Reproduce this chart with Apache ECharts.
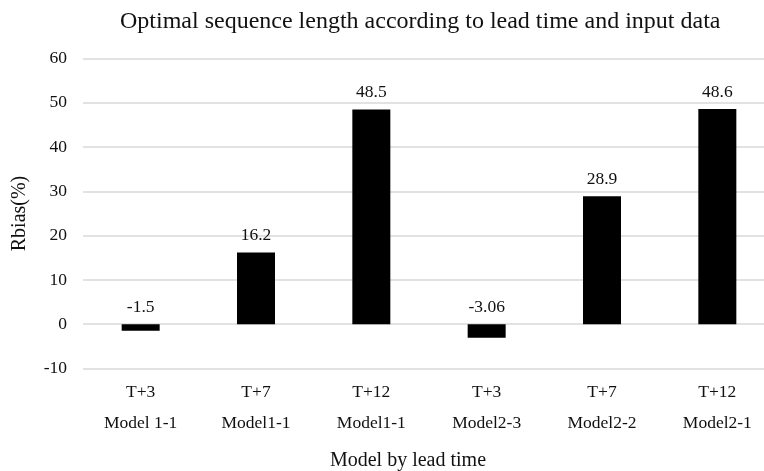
<!DOCTYPE html>
<html><head><meta charset="utf-8">
<script src="https://cdn.jsdelivr.net/npm/echarts@6/dist/echarts.min.js"></script>
<style>html,body{margin:0;padding:0;background:#fff}#c{width:764px;height:471px}</style>
</head><body><div id="c"></div>
<script>
const leadTimes = ["T+3", "T+7", "T+12", "T+3", "T+7", "T+12"];
const models = ["Model 1-1", "Model1-1", "Model1-1", "Model2-3", "Model2-2", "Model2-1"];
const rbias = [-1.5, 16.2, 48.5, -3.06, 28.9, 48.6];
const yTicks = { min: -10, max: 60, interval: 10 };

const categories = leadTimes.map((t, i) => t + "\n" + models[i]);
const font = "Liberation Serif";
const chart = echarts.init(document.getElementById('c'));
chart.setOption({
  animation: false,
  textStyle: { fontFamily: font },
  title: {
    text: "Optimal sequence length according to lead time and input data",
    left: 115, top: 5,
    textStyle: { fontFamily: font, fontSize: 24, fontWeight: 'normal', color: '#111' }
  },
  grid: { left: 83, top: 58.5, width: 692, height: 310, outerBoundsMode: 'none', containLabel: false },
  xAxis: {
    type: 'category', data: categories,
    axisLine: { show: false, onZero: false }, axisTick: { show: false },
    axisLabel: { fontFamily: font, fontSize: 17.5, color: '#111', lineHeight: 31, margin: 8 },
    name: "Model by lead time", nameLocation: 'middle', nameGap: 82,
    nameTextStyle: { fontFamily: font, fontSize: 20, color: '#111', padding: [0, 42, 0, 0] }
  },
  yAxis: {
    type: 'value', min: yTicks.min, max: yTicks.max, interval: yTicks.interval,
    axisLine: { show: false }, axisTick: { show: false },
    splitLine: { lineStyle: { color: '#d9d9d9', width: 1.5 } },
    axisLabel: { fontFamily: font, fontSize: 17.5, color: '#111', margin: 16 },
    name: "Rbias(%)", nameLocation: 'middle', nameGap: 53, nameRotate: 90,
    nameTextStyle: { fontFamily: font, fontSize: 20, color: '#111' }
  },
  series: [{
    type: 'bar', data: rbias, barWidth: 38,
    itemStyle: { color: '#000' },
    label: { show: true, position: 'top', distance: 8, fontFamily: font, fontSize: 17.5, color: '#111' }
  }]
});
</script></body></html>
